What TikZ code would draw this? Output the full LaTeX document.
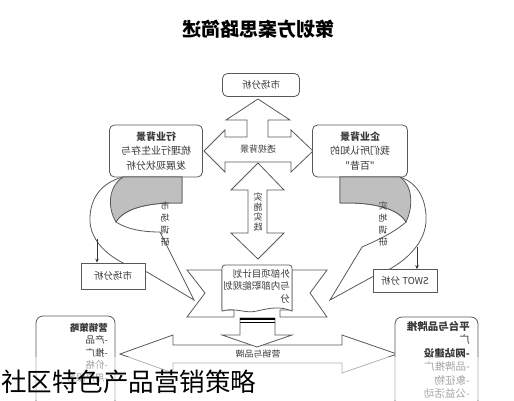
\documentclass[tikz,border=0pt]{standalone}
\usepackage{fontspec}
\usepackage{graphicx}
\newfontfamily\cjk{Noto Sans CJK SC}
\usetikzlibrary{arrows.meta}
\newcommand\mr[1]{\reflectbox{#1}}
\tikzset{
 outl/.style={draw=black!65, line width=0.8pt},
 shp/.style={outl, fill=white},
 rbox/.style={shp, rounded corners=5pt},
 tnine/.style={font=\cjk\fontsize{9.5}{12.5}\selectfont, text=black!78},
 tten/.style={font=\cjk\fontsize{10}{14.5}\selectfont, text=black!78},
 curlgray/.style={outl, fill=black!25},
 smallarr/.style={draw=black!80, line width=0.7pt, -{Stealth[length=4pt,width=3.5pt]}},
}
\begin{document}
\begin{tikzpicture}[x=1pt,y=-1pt]
\useasboundingbox (0,0) rectangle (514,400);
\clip (0,0) rectangle (514,400);
\fill[white] (0,0) rectangle (514,400);

% title
\node[font=\cjk\bfseries\fontsize{19}{20}\selectfont] (title) at (258,29) {\mr{策划方案思路简述}};

% four-way arrow (up + left/right)
\draw[shp] (258,99) -- (290,120) -- (268,120) -- (268,137) -- (291,137) -- (291,130)
  -- (313,151) -- (291,172) -- (291,162) -- (225,162) -- (225,172) -- (204,151)
  -- (225,130) -- (225,137) -- (247,137) -- (247,120) -- (226,120) -- cycle;
\node[tnine, font=\cjk\fontsize{9}{10}\selectfont] (tsbj) at (258,149) {\mr{透视背景}};

% vertical double arrow
\draw[shp] (258,163) -- (284,190) -- (267,190) -- (267,233) -- (284,233) -- (258,259)
  -- (231,233) -- (248,233) -- (248,190) -- (231,190) -- cycle;
\node[tnine, font=\cjk\fontsize{9}{10}\selectfont, align=center] (sssj) at (258,212)
  {\mr{实}\\\mr{施}\\\mr{实}\\\mr{践}};

% boxes top
\node[rbox, minimum width=77pt, minimum height=23pt, tnine] (top) at (261,85) {\mr{市场分析}};
\node[rbox, minimum width=93pt, minimum height=52pt, align=center, tten, inner sep=2pt] (lb) at (156,151)
  {\textbf{\mr{行业背景}}\\\mr{梳理行业生存与}\\\mr{发展现状分析}};
\node[rbox, minimum width=95pt, minimum height=52pt, align=center, tten, inner sep=2pt] (rb) at (360,151)
  {\textbf{\mr{企业背景}}\\\mr{我们所认知的}\\\mr{"百昔"}};

% left curl
\draw[shp] (123,177) -- (182,177) -- (182,203) .. controls (150,202) and (124,208) .. (116,222)
  .. controls (128,230) and (145,232) .. (160,232) -- (194,300) -- (147,272)
  .. controls (120,265) and (92,248) .. (90,222) .. controls (89,200) and (100,183) .. (123,177) -- cycle;
\draw[curlgray] (123,177) -- (182,177) -- (182,203) .. controls (150,202) and (124,208) .. (116,222)
  .. controls (106,205) and (110,185) .. (123,177) -- cycle;
\node[tnine, align=center, font=\cjk\fontsize{9}{12}\selectfont] (scdy) at (165,224)
  {\mr{市}\\\mr{场}\\\mr{调}\\\mr{研}};

% right curl
\draw[shp] (400,177) -- (340,177) -- (340,203) .. controls (372,202) and (398,208) .. (406,222)
  .. controls (395,232) and (378,240) .. (362,247) -- (330,300) -- (372,277)
  .. controls (398,268) and (424,248) .. (426,222) .. controls (427,200) and (418,183) .. (400,177) -- cycle;
\draw[curlgray] (400,177) -- (340,177) -- (340,203) .. controls (372,202) and (398,208) .. (406,222)
  .. controls (414,205) and (412,185) .. (400,177) -- cycle;
\node[tnine, align=center, font=\cjk\fontsize{9}{12}\selectfont] (sddy) at (383,224)
  {\mr{实}\\\mr{地}\\\mr{调}\\\mr{研}};

% lower small boxes
\node[shp, minimum width=64pt, minimum height=26pt, tnine] (lm) at (113,276) {\mr{市场分析}};
\node[shp, minimum width=64pt, minimum height=23pt, tnine] (sw) at (405,281) {\mr{SWOT 分析}};
\coordinate (la) at (97,239);
\coordinate (ra) at (417,247);
\draw[smallarr] (la) -- (la |- lm.north);
\draw[smallarr] (ra) -- (ra |- sw.north);

% banner
\draw[shp] (222,270) -- (187,270) -- (205,293) -- (187,317) -- (234,317) -- (234,310) -- (222,310) -- cycle;
\draw[shp] (292,270) -- (327,270) -- (310,293) -- (327,317) -- (280,317) -- (280,310) -- (292,310) -- cycle;
\draw[shp] (222,311) -- (222,268) [rounded corners=3pt] -- (222,265) -- (292,265) [sharp corners] -- (292,311)
  .. controls (280,306) and (270,308) .. (257,311) .. controls (245,314) and (235,307) .. (222,311) -- cycle;
\node[tnine, align=right, anchor=north east, inner sep=0pt] (plan) at (290,269)
  {\mr{外部项目计划}\\\mr{与内部职能规划}\\\mr{分}};

% bottom double arrow
\draw[shp] (120,354) -- (173,335) -- (173,345) -- (342,345) -- (342,335) -- (397,354)
  -- (342,373) -- (342,363) -- (173,363) -- (173,373) -- cycle;
% down arrow
\draw[shp] (240,318) -- (275,318) -- (275,335) -- (292,335) -- (257,347) -- (222,335) -- (240,335) -- cycle;
\draw[black, line width=1.1pt] (240,319) -- (275,319);
\draw[black, line width=1.1pt] (240,322.5) -- (275,322.5);
\node[tnine, font=\cjk\fontsize{9}{10}\selectfont] (yxpp) at (258,354) {\mr{营销与品牌}};

% bottom boxes
\draw[shp, rounded corners=7pt] (36,420) -- (36,316) -- (115,316) -- (115,420);
\draw[shp, rounded corners=7pt] (395,420) -- (395,317) -- (478,317) -- (478,420);
\node[tnine, align=right, anchor=north east, inner sep=0pt] (lt) at (108,323)
  {\textbf{\mr{营销策略}}\\\mr{-产品}\\\mr{-推广}\\\mr{-价格}\\\mr{-用户服务}};
\node[font=\cjk\fontsize{10.5}{13.5}\selectfont, text=black!78, align=right, anchor=north east, inner sep=0pt] (rt) at (470,321)
  {\textbf{\mr{平台与品牌推}}\\\mr{广}\\\textbf{\mr{-网站建设}}\\\mr{-品牌推广}\\\mr{-象征物}\\\mr{-公益活动}};

% overlay caption
\fill[white, opacity=0.55] (0,357) rectangle (514,400);
\node[anchor=west, font=\cjk\fontsize{25.5}{26}\selectfont, inner sep=0pt] (cap) at (1,382) {社区特色产品营销策略};
\end{tikzpicture}
\end{document}
